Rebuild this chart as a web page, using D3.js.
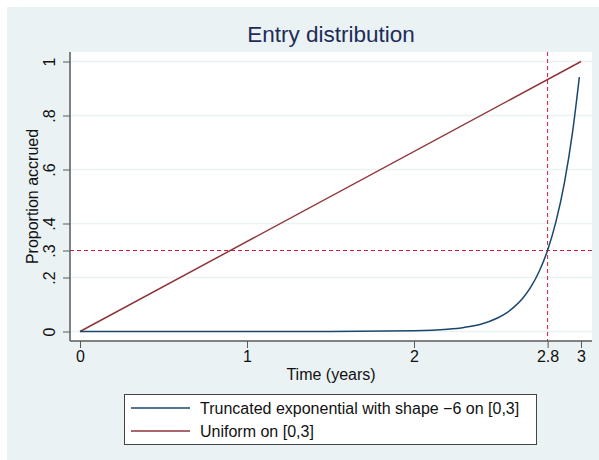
<!DOCTYPE html>
<html>
<head>
<meta charset="utf-8">
<script src="https://cdn.jsdelivr.net/npm/d3@7"></script>
<style>
  body { margin: 0; background: #fff; }
  svg text { font-family: "Liberation Sans", Arial, sans-serif; }
</style>
</head>
<body>
<svg width="599" height="460"></svg>
<script>
// values
const expTime = [0, 0.5, 1, 1.5, 2, 2.2, 2.3, 2.4, 2.5, 2.55, 2.6, 2.65, 2.7, 2.75, 2.8, 2.85, 2.9, 2.95, 2.99];
const expProp = [0, 0, 0, 0.0001, 0.0025, 0.0082, 0.015, 0.027, 0.05, 0.067, 0.091, 0.122, 0.165, 0.223, 0.301, 0.407, 0.549, 0.741, 0.942];
const uniTime = [0, 3];
const uniProp = [0, 1];
const xTicks = [0, 1, 2, 2.8, 3];
const yTicks = [0, 0.2, 0.3, 0.4, 0.6, 0.8, 1];
const gridTicks = [0, 0.2, 0.4, 0.6, 0.8, 1];
const refX = 2.8;
const refY = 0.3;
const seriesNames = ["Truncated exponential with shape \u22126 on [0,3]", "Uniform on [0,3]"];

const navy = "#1a476f";
const maroon = "#90353b";
const dashRed = "#d6193e";
const axisGray = "#5a5a5a";

const svg = d3.select("svg");
const plot = { left: 70, right: 592, top: 52, bottom: 341 };

svg.append("rect")
  .attr("x", 7).attr("y", 7).attr("width", 592).attr("height", 453)
  .attr("fill", "#eaf2f3");

svg.append("rect")
  .attr("x", plot.left).attr("y", plot.top)
  .attr("width", plot.right - plot.left).attr("height", plot.bottom - plot.top)
  .attr("fill", "#fff");

const x = d3.scaleLinear().domain([0, 3]).range([80, 581]);
const y = d3.scaleLinear().domain([0, 1]).range([331.5, 61.5]);

// gridlines
svg.append("g").selectAll("line").data(gridTicks).join("line")
  .attr("x1", plot.left).attr("x2", plot.right)
  .attr("y1", d => y(d)).attr("y2", d => y(d))
  .attr("stroke", "#eaf2f3").attr("stroke-width", 1.5);

// reference lines
svg.append("line")
  .attr("x1", plot.left).attr("x2", plot.right)
  .attr("y1", y(refY)).attr("y2", y(refY))
  .attr("stroke", dashRed).attr("stroke-width", 1).attr("stroke-dasharray", "4,3");
svg.append("line")
  .attr("x1", x(refX)).attr("x2", x(refX))
  .attr("y1", plot.top).attr("y2", plot.bottom)
  .attr("stroke", dashRed).attr("stroke-width", 1).attr("stroke-dasharray", "4,3");

// series
const line = d3.line().x(d => x(d[0])).y(d => y(d[1])).curve(d3.curveMonotoneX);
svg.append("path")
  .datum(uniTime.map((t, i) => [t, uniProp[i]]))
  .attr("d", line).attr("fill", "none")
  .attr("stroke", maroon).attr("stroke-width", 1.5);
svg.append("path")
  .datum(expTime.map((t, i) => [t, expProp[i]]))
  .attr("d", line).attr("fill", "none")
  .attr("stroke", navy).attr("stroke-width", 1.5);

// axes
const fmt = d => d === 0 ? "0" : d === 1 ? "1" : String(d).replace(/^0\./, ".");

const yAxis = svg.append("g")
  .attr("transform", `translate(${plot.left},0)`)
  .call(d3.axisLeft(y).tickValues(yTicks).tickFormat(fmt).tickSize(7).tickSizeOuter(0));
yAxis.select(".domain").attr("d", `M0,${plot.top}V${plot.bottom}`);
yAxis.selectAll("line").attr("stroke", axisGray);
yAxis.select(".domain").attr("stroke", axisGray).attr("stroke-width", 1.5);
yAxis.selectAll("text")
  .attr("font-size", 16).attr("fill", "#111")
  .attr("x", null).attr("dy", null)
  .attr("text-anchor", "middle")
  .attr("transform", "translate(-15,0) rotate(-90)");

const xAxis = svg.append("g")
  .attr("transform", `translate(0,${plot.bottom})`)
  .call(d3.axisBottom(x).tickValues(xTicks).tickFormat(d => String(d)).tickSize(7).tickSizeOuter(0));
xAxis.select(".domain").attr("d", `M${plot.left},0H${plot.right}`)
  .attr("stroke", axisGray).attr("stroke-width", 1.5);
xAxis.selectAll("line").attr("stroke", axisGray);
xAxis.selectAll("text")
  .attr("font-size", 16).attr("fill", "#111")
  .attr("dy", null).attr("y", 21);

// titles
svg.append("text")
  .attr("x", (plot.left + plot.right) / 2).attr("y", 42)
  .attr("text-anchor", "middle").attr("font-size", 22.5).attr("fill", "#1e2d58")
  .text("Entry distribution");

svg.append("text")
  .attr("x", (plot.left + plot.right) / 2).attr("y", 380)
  .attr("text-anchor", "middle").attr("font-size", 16).attr("fill", "#111")
  .text("Time (years)");

svg.append("text")
  .attr("transform", `translate(38,${(plot.top + plot.bottom) / 2}) rotate(-90)`)
  .attr("text-anchor", "middle").attr("font-size", 16).attr("fill", "#111")
  .text("Proportion accrued");

// legend
const legend = svg.append("g");
legend.append("rect")
  .attr("x", 124.5).attr("y", 394.5).attr("width", 412).attr("height", 50)
  .attr("fill", "#fff").attr("stroke", "#444").attr("stroke-width", 1);
const legendColors = [navy, maroon];
const items = legend.selectAll("g.item").data(seriesNames).join("g")
  .attr("class", "item")
  .attr("transform", (d, i) => `translate(0,${408 + i * 23})`);
items.append("line")
  .attr("x1", 131).attr("x2", 190)
  .attr("stroke", (d, i) => legendColors[i]).attr("stroke-width", 1.5);
items.append("text")
  .attr("x", 200).attr("y", 5.5)
  .attr("font-size", 16).attr("fill", "#111")
  .text(d => d);
</script>
</body>
</html>
